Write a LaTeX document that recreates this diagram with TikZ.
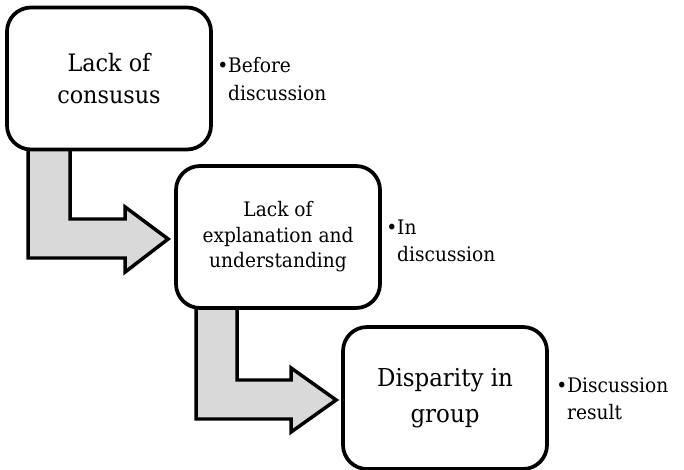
\documentclass[tikz,border=0pt]{standalone}
\usepackage{fontspec}
\setmainfont{DejaVu Serif}[FakeStretch=0.93]
\usetikzlibrary{calc,backgrounds}
\begin{document}
\begin{tikzpicture}[x=0.75pt,y=-0.75pt,
  stagebox/.style={draw=black,line width=2.8pt,fill=white,rounded corners=18pt,
    minimum width=153pt,minimum height=106.5pt,align=center,inner sep=0pt},
  bentarrow/.style={draw=black,line width=2.6pt,fill=black!15,line join=miter},
  note/.style={anchor=base west,inner sep=0pt,font=\fontsize{15}{20.5}\selectfont}]
\useasboundingbox (0,0) rectangle (684,470);

% stages
\node[stagebox,font=\fontsize{18}{24.75}\selectfont] (b1) at (109,78.5) {Lack of\\[-1pt]consusus};
\node[stagebox,font=\fontsize{15}{19.2}\selectfont] (b2) at (278,237) {Lack of\\explanation and\\understanding};
\node[stagebox,font=\fontsize{18.5}{27}\selectfont] (b3) at (445,398) {Disparity in\\group};

% side notes
\node[note] (n1) at (217,73) {\begin{tabular}[t]{@{}l@{}l@{}}\textbullet&Before\\&discussion\end{tabular}};
\node[note] (n2) at (386,234) {\begin{tabular}[t]{@{}l@{}l@{}}\textbullet&In\\&discussion\end{tabular}};
\node[note] (n3) at (556,392) {\begin{tabular}[t]{@{}l@{}l@{}}\textbullet&Discussion\\&result\end{tabular}};

% bent block arrows between the stages
\begin{scope}[on background layer]
\draw[bentarrow] ($(b1.south west)+(23,-8)$) -- ($(b1.south west)+(65,-8)$)
  |- ($(b2.west)+(-49,-18)$) -- ($(b2.west)+(-49,-30)$)
  -- ($(b2.west)+(-6,2)$) -- ($(b2.west)+(-49,35)$) -- ($(b2.west)+(-49,21)$)
  -| cycle;
\draw[bentarrow] ($(b2.south west)+(22,-8)$) -- ($(b2.south west)+(63,-8)$)
  |- ($(b3.west)+(-50,-18)$) -- ($(b3.west)+(-50,-30)$)
  -- ($(b3.west)+(-5,2)$) -- ($(b3.west)+(-50,34)$) -- ($(b3.west)+(-50,21)$)
  -| cycle;
\end{scope}
\end{tikzpicture}
\end{document}
